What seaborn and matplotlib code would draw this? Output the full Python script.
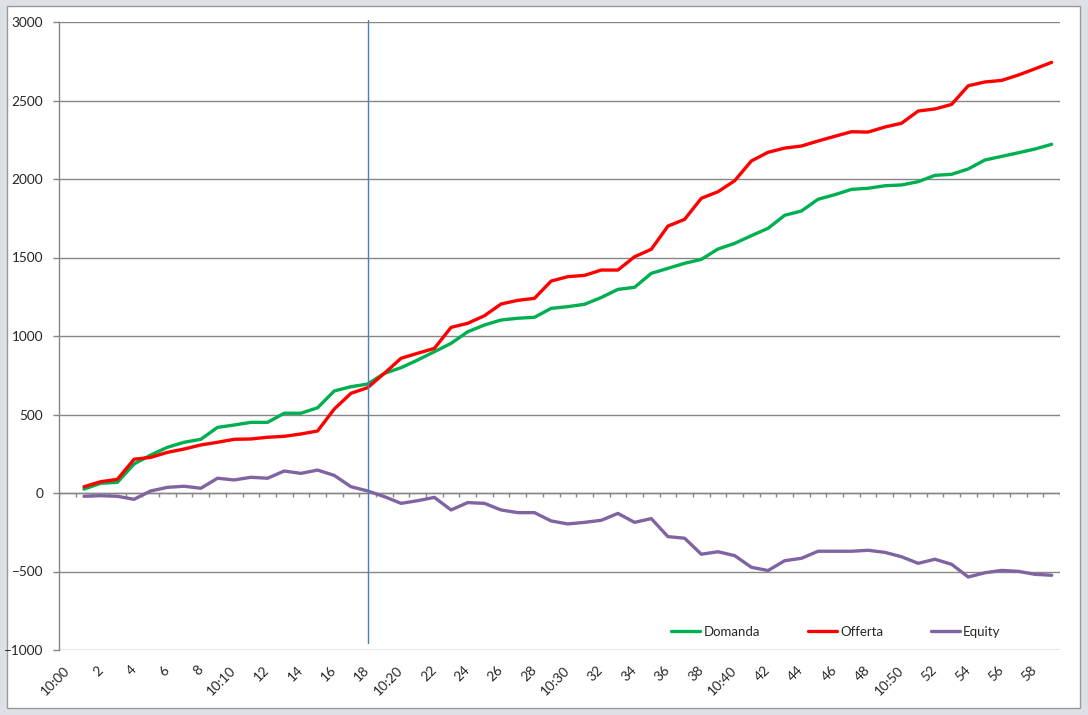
import matplotlib
matplotlib.use("Agg")
import matplotlib.pyplot as plt
import seaborn as sns
import pandas as pd
from matplotlib.patches import Rectangle

# ---------------- data ----------------
positions = list(range(1, 60))  # category slots 1..59 (slot 0 = 10:00 has no data)

domanda = [25, 62, 68, 185, 242, 291, 323, 342, 418, 433, 450, 450, 508, 508, 543,
           650, 677, 694, 762, 798, 847, 900, 953, 1027, 1070, 1102, 1113, 1119, 1176, 1187,
           1202, 1245, 1297, 1310, 1399, 1431, 1463, 1488, 1554, 1590, 1639, 1686, 1769, 1796, 1871,
           1900, 1934, 1941, 1957, 1962, 1983, 2023, 2030, 2064, 2121, 2144, 2167, 2191, 2221]

offerta = [40, 72, 87, 215, 227, 259, 280, 306, 323, 342, 344, 355, 361, 376, 395,
           535, 635, 671, 762, 858, 890, 921, 1055, 1081, 1129, 1204, 1227, 1240, 1350, 1378,
           1386, 1420, 1420, 1505, 1552, 1700, 1743, 1877, 1919, 1989, 2115, 2170, 2197, 2210, 2242,
           2272, 2301, 2299, 2331, 2355, 2433, 2446, 2475, 2594, 2618, 2628, 2662, 2702, 2743]

equity = [-21, -17, -21, -40, 13, 36, 43, 30, 94, 83, 100, 94, 140, 125, 146,
          112, 40, 13, -23, -66, -49, -28, -108, -61, -66, -108, -125, -125, -178, -197,
          -187, -174, -130, -187, -163, -278, -288, -390, -374, -399, -473, -494, -431, -416, -371,
          -371, -371, -365, -378, -406, -448, -422, -454, -535, -508, -493, -499, -518, -524]

tick_positions = list(range(0, 60, 2))
tick_labels = ["10:00", "2", "4", "6", "8", "10:10", "12", "14", "16", "18",
               "10:20", "22", "24", "26", "28", "10:30", "32", "34", "36", "38",
               "10:40", "42", "44", "46", "48", "10:50", "52", "54", "56", "58"]

series_names = ["Domanda", "Offerta", "Equity"]
series_colors = ["#00B050", "#FF0000", "#8064A2"]
marker_slot = 18
n_slots = 60

# ---------------- build long table ----------------
frames = []
for name, vals in zip(series_names, [domanda, offerta, equity]):
    frames.append(pd.DataFrame({"pos": positions, "value": vals, "series": name}))
df = pd.concat(frames, ignore_index=True)

# ---------------- figure ----------------
sns.set_theme(style="white")
plt.rcParams['font.family'] = ['Lato', 'DejaVu Sans']

W, H = 1088, 715
fig = plt.figure(figsize=(W / 100, H / 100), dpi=100, facecolor="#DDE1E7")
frame = Rectangle((7 / W, 1 - 708 / H), (1080 - 7) / W, (708 - 6) / H,
                  transform=fig.transFigure, facecolor="white",
                  edgecolor="#9A9A9A", linewidth=1, zorder=-5)
fig.patches.append(frame)

ax = fig.add_axes([59 / W, 1 - 650 / H, 1001 / W, 628 / H])
ax.set_zorder(1)
ax.set_facecolor("white")

grid_color = "#868686"

sns.lineplot(data=df, x="pos", y="value", hue="series", hue_order=series_names,
             palette=dict(zip(series_names, series_colors)), linewidth=2.4,
             ax=ax, legend=False, zorder=3)

ax.set_xlim(-0.5, n_slots - 0.5)
ax.set_ylim(-1000, 3000)
ax.set_yticks(range(-1000, 3001, 500))
ax.yaxis.grid(True, color=grid_color, linewidth=1)
ax.xaxis.grid(False)
ax.set_axisbelow(True)

for side in ["top", "right", "bottom"]:
    ax.spines[side].set_visible(False)
ax.spines["left"].set_color(grid_color)
ax.spines["left"].set_linewidth(1)

# category axis crossing at zero with tick marks between categories
ax.axhline(0, color=grid_color, linewidth=1, zorder=2)
boundaries = [k - 0.5 for k in range(n_slots + 1)]
ax.vlines(boundaries, 0, -25, color=grid_color, linewidth=1, zorder=2)

# vertical marker line
ax.axvline(marker_slot, ymin=0.011, ymax=1.003, color="#4A7EBB", linewidth=1,
           clip_on=False, zorder=4)

ax.tick_params(axis="y", direction="out", length=4, width=1, color=grid_color,
               pad=7.5, labelsize=9.8, left=True)
ax.set_xticks(tick_positions)
ax.set_xticklabels(tick_labels, rotation=45, ha="right", va="center",
                   rotation_mode="anchor")
ax.tick_params(axis="x", length=0, pad=13, labelsize=9.8)
ax.set_xlabel("")
ax.set_ylabel("")

handles = ax.get_lines()[:3]
leg = ax.legend(handles, series_names, loc="center", bbox_to_anchor=(0.776, 0.029),
                ncol=3, frameon=False, fontsize=9.5, handlelength=2.2,
                handletextpad=0.25, columnspacing=3.6, borderpad=0)
for line in leg.get_lines():
    line.set_linewidth(2.4)

fig.savefig("out.png", dpi=100, facecolor=fig.get_facecolor())
